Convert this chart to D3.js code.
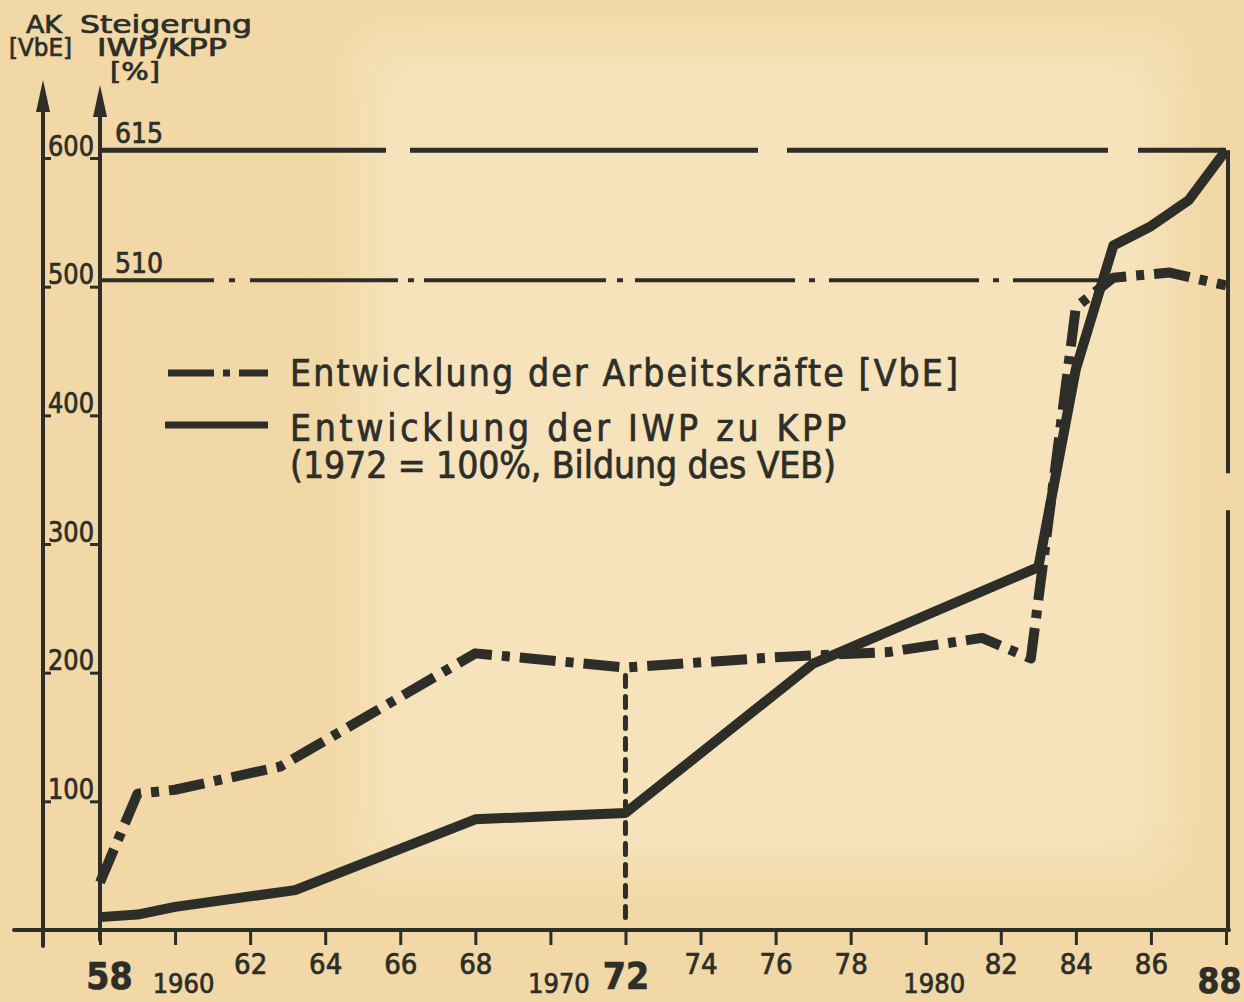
<!DOCTYPE html>
<html>
<head>
<meta charset="utf-8">
<script src="https://cdn.jsdelivr.net/npm/d3@7"></script>
<style>
  body { margin: 0; background: #f1d8a6; }
  svg text { font-family: "DejaVu Sans Condensed", "DejaVu Sans", sans-serif; fill: #2c2e27; stroke: #2c2e27; stroke-width: 0.7px; }
</style>
</head>
<body>
<div id="chart"></div>
<script>
var width = 1244,
    height = 1002,
    ink = "#2c2e27";

// IWP zu KPP (solid line), %
var iwpYears  = [1958, 1959, 1960, 1963.2, 1968, 1972, 1977, 1983, 1984, 1985, 1986, 1987, 1988];
var iwpValues = [10, 12, 18, 31, 86, 91, 207, 282, 436, 532, 547, 567, 606];

// Arbeitskraefte (dash-dot line), VbE
var akYears  = [1958, 1959, 1960, 1962.8, 1968, 1972, 1976, 1979, 1981.5, 1982.8, 1984, 1985, 1986.5, 1988];
var akValues = [37, 106, 109, 127, 215, 204, 212, 216, 227, 211, 484, 507, 511, 501];

// reference lines
var refValues = [606, 505];
var refEnds   = [1988, 1985];
var refLabels = ["615", "510"];

// axis ticks
var xTicks = [1958, 1960, 1962, 1964, 1966, 1968, 1970, 1972, 1974, 1976, 1978, 1980, 1982, 1984, 1986, 1988];
var xTickLabels = ["58", "1960", "62", "64", "66", "68", "1970", "72", "74", "76", "78", "1980", "82", "84", "86", "88"];
var yTicks = [100, 200, 300, 400, 500, 600];

var legendLabels = [
  "Entwicklung  der Arbeitskräfte  [VbE]",
  "Entwicklung  der  IWP  zu KPP",
  "(1972 = 100%, Bildung  des  VEB)"
];

var x = d3.scaleLinear().domain([1958, 1988]).range([100, 1226]);
var y = d3.scaleLinear().domain([0, 600]).range([930, 158]);

var svg = d3.select("#chart").append("svg")
    .attr("width", width)
    .attr("height", height);

// paper
var defs = svg.append("defs");
defs.append("filter").attr("id", "soft")
  .append("feGaussianBlur").attr("stdDeviation", 25);
svg.append("rect").attr("width", width).attr("height", height).attr("fill", "#f1d8a6");
svg.append("rect")
    .attr("x", 360).attr("y", 40).attr("width", 810).attr("height", 830)
    .attr("fill", "#f8e6c3").attr("opacity", 0.75)
    .attr("filter", "url(#soft)");

var g = svg.append("g");

// reference lines 615 / 510
g.selectAll(".ref")
    .data(refValues)
  .enter().append("line")
    .attr("class", "ref")
    .attr("x1", x(1958))
    .attr("x2", function(d, i) { return x(refEnds[i]); })
    .attr("y1", function(d) { return y(d); })
    .attr("y2", function(d) { return y(d); })
    .attr("stroke", ink)
    .attr("stroke-width", function(d, i) { return i == 0 ? 5 : 4; })
    .attr("stroke-dasharray", function(d, i) {
      return i == 0 ? "286,24,348,29,321,30,200"
                    : "114,15,6,15,148,10,6,10,182,11,6,12,160,14,6,14,150,14,6,14";
    });

g.selectAll(".reflabel")
    .data(refValues)
  .enter().append("text")
    .attr("class", "reflabel")
    .attr("x", x(1958) + 15)
    .attr("y", function(d) { return y(d) - 7; })
    .style("font-size", "28px")
    .text(function(d, i) { return refLabels[i]; });

// right border line at 1988 (with a break)
g.append("line")
    .attr("x1", x(1988) + 2).attr("x2", x(1988) + 2)
    .attr("y1", y(refValues[0])).attr("y2", y(0))
    .attr("stroke", ink).attr("stroke-width", 4)
    .attr("stroke-dasharray", "323,37,600");

// dotted line at 1972
g.append("line")
    .attr("x1", x(1972)).attr("x2", x(1972))
    .attr("y1", y(akValues[5]) + 8).attr("y2", y(0) - 6)
    .attr("stroke", ink).attr("stroke-width", 5)
    .attr("stroke-linecap", "round")
    .attr("stroke-dasharray", "11,10");

// axes
var xAxis = d3.axisBottom(x)
    .tickValues(xTicks)
    .tickSize(15)
    .tickFormat("");
var xg = g.append("g")
    .attr("transform", "translate(0," + y(0) + ")")
    .call(xAxis);
xg.select(".domain").remove();
xg.selectAll(".tick line").attr("stroke", ink).attr("stroke-width", 3);

g.append("line")
    .attr("x1", 14).attr("x2", x(1988) + 3)
    .attr("y1", y(0)).attr("y2", y(0))
    .attr("stroke", ink).attr("stroke-width", 4)
    .attr("stroke-linecap", "round");

xg.selectAll(".tick").append("text")
    .attr("text-anchor", "middle")
    .attr("x", function(d, i) { return i == 0 ? 9 : (i == 15 ? -7 : (d % 10 == 0 ? 8 : 0)); })
    .attr("y", function(d, i) {
      if (i == 0 || i == 7) return 59;
      if (i == 15) return 63;
      if (d % 10 == 0) return 63;
      return 44;
    })
    .style("font-size", function(d, i) {
      if (i == 0 || i == 7) return "37px";
      if (i == 15) return "35px";
      if (d % 10 == 0) return "27px";
      return "29px";
    })
    .style("font-weight", function(d, i) { return (i == 0 || i == 7 || i == 15) ? "bold" : "normal"; })
    .text(function(d, i) { return xTickLabels[i]; });

// two vertical axes
var axisX = [43, 100];
g.selectAll(".vaxis")
    .data(axisX)
  .enter().append("line")
    .attr("class", "vaxis")
    .attr("x1", function(d) { return d; })
    .attr("x2", function(d) { return d; })
    .attr("y1", function(d, i) { return i == 0 ? 100 : 105; })
    .attr("y2", function(d, i) { return i == 0 ? 946 : 940; })
    .attr("stroke", ink)
    .attr("stroke-width", 4)
    .attr("stroke-linecap", "round");

g.selectAll(".arrow")
    .data(axisX)
  .enter().append("path")
    .attr("class", "arrow")
    .attr("d", function(d, i) {
      var tip = i == 0 ? 80 : 85;
      return "M" + d + "," + tip + "L" + (d - 7) + "," + (tip + 32) + "L" + (d + 7) + "," + (tip + 32) + "Z";
    })
    .attr("fill", ink);

var yRight = d3.axisLeft(y).tickValues(yTicks).tickSize(10).tickFormat("");
var yr = g.append("g").attr("transform", "translate(100,0)").call(yRight);
yr.select(".domain").remove();
yr.selectAll(".tick line").attr("stroke", ink).attr("stroke-width", 3);

var yLeft = d3.axisRight(y).tickValues(yTicks).tickSize(8).tickFormat("");
var yl = g.append("g").attr("transform", "translate(43,0)").call(yLeft);
yl.select(".domain").remove();
yl.selectAll(".tick line").attr("stroke", ink).attr("stroke-width", 3);

yl.selectAll(".tick").append("text")
    .attr("x", 28)
    .attr("y", -3)
    .attr("text-anchor", "middle")
    .attr("textLength", 46)
    .attr("lengthAdjust", "spacingAndGlyphs")
    .style("font-size", "28px")
    .text(function(d) { return d; });

// axis titles
var titles = [
  { t: "AK", x: 26, y: 33, w: 36 },
  { t: "Steigerung", x: 80, y: 33, w: 172 },
  { t: "[VbE]", x: 9, y: 56, w: 63 },
  { t: "IWP/KPP", x: 97, y: 56, w: 130 },
  { t: "[%]", x: 110, y: 80, w: 50 }
];
svg.selectAll(".title")
    .data(titles)
  .enter().append("text")
    .attr("class", "title")
    .attr("x", function(d) { return d.x; })
    .attr("y", function(d) { return d.y; })
    .attr("textLength", function(d) { return d.w; })
    .attr("lengthAdjust", "spacingAndGlyphs")
    .style("font-size", "25px")
    .text(function(d) { return d.t; });

// data lines
var lineIwp = d3.line()
    .x(function(d, i) { return x(iwpYears[i]); })
    .y(function(d) { return y(d); });
var lineAk = d3.line()
    .x(function(d, i) { return x(akYears[i]); })
    .y(function(d) { return y(d); });

g.append("path")
    .datum(akValues)
    .attr("d", lineAk)
    .attr("fill", "none")
    .attr("stroke", ink)
    .attr("stroke-width", 10)
    .attr("stroke-linejoin", "round")
    .attr("stroke-dasharray", "36,10,8,10");

g.append("path")
    .datum(iwpValues)
    .attr("d", lineIwp)
    .attr("fill", "none")
    .attr("stroke", ink)
    .attr("stroke-width", 10)
    .attr("stroke-linejoin", "round");

// legend
var lg = svg.append("g");
lg.append("line")
    .attr("x1", 168).attr("x2", 268).attr("y1", 373).attr("y2", 373)
    .attr("stroke", ink).attr("stroke-width", 7)
    .attr("stroke-dasharray", "46,9,7,9,60");
lg.append("line")
    .attr("x1", 165).attr("x2", 268).attr("y1", 425).attr("y2", 425)
    .attr("stroke", ink).attr("stroke-width", 7);

var legendPos = [
  { x: 290, y: 386, w: 668 },
  { x: 290, y: 441, w: 556 },
  { x: 290, y: 478, w: 546 }
];
lg.selectAll(".leg")
    .data(legendLabels)
  .enter().append("text")
    .attr("class", "leg")
    .attr("x", function(d, i) { return legendPos[i].x; })
    .attr("y", function(d, i) { return legendPos[i].y; })
    .attr("textLength", function(d, i) { return legendPos[i].w; })
    .attr("lengthAdjust", "spacing")
    .style("font-size", "37px")
    .text(function(d) { return d; });
</script>
</body>
</html>
